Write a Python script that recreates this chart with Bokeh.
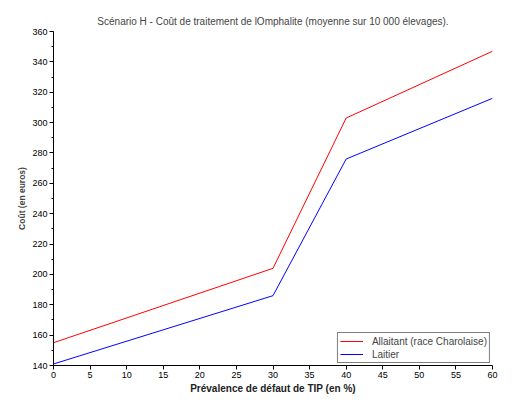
from bokeh.plotting import figure
from bokeh.models import Range1d, SingleIntervalTicker, Legend, LegendItem
from bokeh.embed import file_html
from bokeh.resources import INLINE

prevalence = [0, 30, 40, 60]
allaitant = [155, 204, 303, 347]
laitier = [141, 186, 276, 316]

title_text = "Scénario H - Coût de traitement de lOmphalite (moyenne sur 10 000 élevages)."
x_label = "Prévalence de défaut de TIP (en %)"
y_label = "Coût (en euros)"
series_names = ["Allaitant (race Charolaise)", "Laitier"]

FONT = "Liberation Sans"

p = figure(width=499, height=396, output_backend="svg", toolbar_location=None,
           x_range=Range1d(0, 60), y_range=Range1d(140, 360),
           min_border_left=53, min_border_right=7, min_border_top=31, min_border_bottom=28)

p.title.text = title_text
p.title.text_font = FONT
p.title.text_font_size = "10px"
p.title.text_font_style = "normal"
p.title.align = "center"
p.title.standoff = 10
p.title.offset = 0

p.xgrid.visible = False
p.ygrid.visible = False
p.outline_line_color = None

p.xaxis.ticker = SingleIntervalTicker(interval=5, num_minor_ticks=1)
p.yaxis.ticker = SingleIntervalTicker(interval=20, num_minor_ticks=2)

for ax in (p.xaxis[0], p.yaxis[0]):
    ax.axis_line_color = "black"
    ax.major_tick_line_color = "black"
    ax.minor_tick_line_color = "black"
    ax.major_tick_in = 0
    ax.major_tick_out = 4
    ax.minor_tick_in = 0
    ax.minor_tick_out = 2
    ax.major_label_text_font = FONT
    ax.major_label_text_font_size = "9px"
    ax.major_label_text_color = "black"
    ax.axis_label_text_font = FONT
    ax.axis_label_text_font_style = "bold"
    ax.axis_label_text_color = "#222222"
    ax.major_label_standoff = 2
    ax.axis_label_standoff = 2

p.xaxis.axis_label_text_font_size = "10px"
p.yaxis.axis_label_text_font_size = "8.5px"
p.yaxis.axis_label_text_color = "#444444"
p.xaxis.minor_tick_line_color = None
p.xaxis.axis_label = x_label
p.yaxis.axis_label = y_label

r1 = p.line(prevalence, allaitant, line_color="#ff0000", line_width=1)
r2 = p.line(prevalence, laitier, line_color="#0000ff", line_width=1)

legend = Legend(items=[LegendItem(label=series_names[0], renderers=[r1]),
                       LegendItem(label=series_names[1], renderers=[r2])],
                location="bottom_right", margin=2, padding=2, spacing=1,
                glyph_width=23, glyph_height=12, label_height=12,
                label_standoff=9, label_text_font=FONT, label_text_font_size="10px",
                border_line_color="black", border_line_width=1,
                background_fill_color="white", background_fill_alpha=1.0)
p.add_layout(legend, "center")

open("out.html", "w").write(file_html(p, INLINE))
